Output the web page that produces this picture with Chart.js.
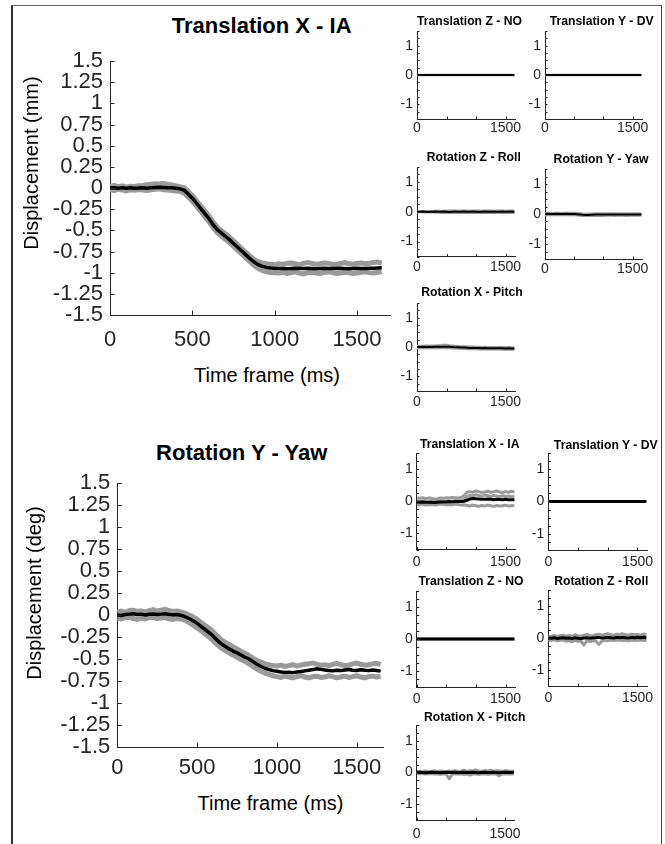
<!DOCTYPE html>
<html>
<head>
<meta charset="utf-8">
<script src="https://cdn.jsdelivr.net/npm/chart.js@4/dist/chart.umd.min.js"></script>
<style>
html,body{margin:0;padding:0;background:#fff;}
#fig{position:relative;width:665px;height:844px;overflow:hidden;background:#fff;font-family:"Liberation Sans",Arial,Helvetica,sans-serif;color:#000;}
#frame{position:absolute;left:11px;top:5px;width:651px;height:900px;box-sizing:border-box;border-top:1px solid #666;border-left:2px solid #333;border-right:1px solid #444;}
canvas{position:absolute;}
.t{position:absolute;white-space:nowrap;line-height:1;transform:translate(-50%,-50%);}
.r{transform:translate(-50%,-50%) rotate(-90deg);}
</style>
</head>
<body>
<div id="fig"><div id="frame"></div></div>
<script>
// ---------------- data ----------------
const T25 = [0,25,50,75,100,125,150,175,200,225,250,275,300,325,350,375,400,425,450,475,500,525,550,575,600,625,650,675,700,725,750,775,800,825,850,875,900,925,950,975,1000,1025,1050,1075,1100,1125,1150,1175,1200,1225,1250,1275,1300,1325,1350,1375,1400,1425,1450,1475,1500,1525,1550,1575,1600,1625,1650];
const T50 = [0,50,100,150,200,250,300,350,400,450,500,550,600,650,700,750,800,850,900,950,1000,1050,1100,1150,1200,1250,1300,1350,1400,1450,1500,1550,1600,1650];

const BIG_Y_TICKS = [-1.5,-1.25,-1,-0.75,-0.5,-0.25,0,0.25,0.5,0.75,1,1.25,1.5];
const BIG_X_TICKS = [0,500,1000,1500];
const SMALL_Y_TICKS = [-1.5,-1.25,-1,-0.75,-0.5,-0.25,0,0.25,0.5,0.75,1,1.25,1.5];
const SMALL_Y_LABELS = [-1,0,1];
const SMALL_X_TICKS = [0,500,1000,1500];
const SMALL_X_LABELS = [0,1500];

// Top: Translation X - IA (mm)
const txMean = [0.000,0.004,-0.002,0.003,-0.003,0.002,-0.004,0.001,0.003,-0.002,0.004,0.006,0.008,0.006,0.004,0.002,-0.004,-0.010,
 -0.025,-0.070,-0.120,-0.180,-0.240,-0.300,-0.360,-0.430,-0.490,-0.530,-0.570,-0.610,-0.655,-0.700,-0.745,-0.790,-0.835,-0.875,-0.905,-0.925,-0.938,-0.946,
 -0.950,-0.952,-0.950,-0.953,-0.951,-0.949,-0.952,-0.950,-0.948,-0.951,-0.953,-0.950,-0.948,-0.951,-0.950,-0.952,-0.949,-0.951,-0.953,-0.950,-0.948,-0.950,-0.952,-0.949,-0.947,-0.945,-0.943];
const txTrialA = [0.020,0.030,0.015,0.025,0.010,0.022,0.018,0.028,0.030,0.040,0.045,0.050,0.048,0.055,0.045,0.035,0.025,0.015,
 0.005,-0.040,-0.090,-0.150,-0.210,-0.270,-0.330,-0.400,-0.460,-0.500,-0.540,-0.580,-0.625,-0.670,-0.715,-0.760,-0.805,-0.845,-0.870,-0.885,-0.895,-0.900,
 -0.905,-0.895,-0.900,-0.890,-0.885,-0.895,-0.905,-0.890,-0.880,-0.890,-0.900,-0.895,-0.885,-0.890,-0.900,-0.905,-0.890,-0.880,-0.895,-0.900,-0.890,-0.885,-0.895,-0.890,-0.880,-0.875,-0.885];
const txTrialB = [-0.020,-0.030,-0.015,-0.025,-0.035,-0.020,-0.028,-0.018,-0.025,-0.030,-0.020,-0.015,-0.010,-0.020,-0.025,-0.030,-0.035,-0.040,
 -0.060,-0.105,-0.155,-0.215,-0.275,-0.335,-0.395,-0.465,-0.525,-0.565,-0.605,-0.645,-0.690,-0.735,-0.780,-0.825,-0.870,-0.915,-0.950,-0.975,-0.990,-0.998,
 -1.000,-1.005,-0.995,-1.010,-1.000,-0.990,-1.005,-1.015,-1.000,-0.995,-1.005,-1.010,-0.995,-0.990,-1.000,-1.010,-1.005,-0.995,-1.000,-1.010,-1.005,-0.995,-0.990,-1.000,-1.005,-0.995,-0.990];

// Bottom: Rotation Y - Yaw (deg)
const ryMean = [0.000,-0.005,0.005,0.010,0.015,0.005,0.010,0.000,0.008,0.012,0.005,0.010,0.015,0.005,0.000,0.005,-0.005,
 -0.020,-0.040,-0.065,-0.095,-0.130,-0.165,-0.200,-0.240,-0.285,-0.325,-0.355,-0.385,-0.410,-0.430,-0.455,-0.480,-0.500,-0.530,-0.560,-0.585,-0.605,-0.620,-0.632,
 -0.640,-0.648,-0.652,-0.650,-0.655,-0.648,-0.642,-0.635,-0.628,-0.620,-0.612,-0.618,-0.625,-0.630,-0.635,-0.628,-0.632,-0.625,-0.620,-0.628,-0.630,-0.622,-0.628,-0.632,-0.625,-0.630,-0.638];
const ryTrialA = [0.035,0.045,0.030,0.050,0.055,0.040,0.045,0.035,0.050,0.060,0.045,0.055,0.065,0.050,0.040,0.045,0.035,
 0.020,0.000,-0.020,-0.050,-0.085,-0.120,-0.150,-0.190,-0.235,-0.280,-0.310,-0.335,-0.360,-0.385,-0.410,-0.435,-0.460,-0.490,-0.515,-0.535,-0.555,-0.565,-0.575,
 -0.580,-0.570,-0.585,-0.575,-0.565,-0.580,-0.570,-0.560,-0.555,-0.545,-0.560,-0.570,-0.565,-0.575,-0.560,-0.550,-0.565,-0.575,-0.570,-0.555,-0.545,-0.560,-0.570,-0.565,-0.555,-0.550,-0.565];
const ryTrialB = [-0.035,-0.045,-0.030,-0.025,-0.040,-0.050,-0.035,-0.045,-0.030,-0.025,-0.040,-0.035,-0.030,-0.045,-0.050,-0.040,-0.045,
 -0.060,-0.085,-0.115,-0.145,-0.180,-0.215,-0.250,-0.290,-0.335,-0.375,-0.400,-0.430,-0.455,-0.480,-0.505,-0.530,-0.555,-0.585,-0.615,-0.640,-0.660,-0.675,-0.690,
 -0.700,-0.710,-0.695,-0.705,-0.715,-0.700,-0.690,-0.705,-0.715,-0.700,-0.695,-0.710,-0.705,-0.690,-0.700,-0.715,-0.705,-0.695,-0.710,-0.700,-0.690,-0.705,-0.715,-0.700,-0.695,-0.705,-0.700];

// flat channels
const flat0 = [0,0,0,0,0,0,0,0,0,0,0,0,0,0,0,0,0,0,0,0,0,0,0,0,0,0,0,0,0,0,0,0,0,0];

// Top block small panels (stimulus: Translation X - IA)
const t_rzMean = [0.000,0.000,0.005,0.000,-0.005,0.000,0.005,0.000,0.000,0.005,0.000,-0.005,0.000,0.005,0.000,0.000,0.005,0.000,0.000,0.005,0.000,-0.005,0.000,0.005,0.000,0.000,0.005,0.000,0.000,0.005,0.000,0.000,0.005,0.000];
const t_rzUp = [0.010,0.010,0.015,0.010,0.020,0.015,0.025,0.030,0.020,0.030,0.025,0.030,0.035,0.030,0.025,0.030,0.035,0.030,0.025,0.030,0.035,0.030,0.025,0.030,0.030,0.035,0.025,0.030,0.035,0.030,0.025,0.030,0.030,0.025];
const t_rzLo = [-0.010,-0.010,-0.015,-0.010,-0.015,-0.020,-0.025,-0.020,-0.030,-0.025,-0.030,-0.025,-0.030,-0.035,-0.030,-0.025,-0.030,-0.035,-0.030,-0.025,-0.030,-0.035,-0.030,-0.025,-0.030,-0.030,-0.035,-0.025,-0.030,-0.035,-0.030,-0.025,-0.030,-0.030];
const t_ryMean = [0.000,0.005,0.000,0.000,0.005,0.000,0.000,0.005,0.000,0.000,0.000,-0.005,-0.015,-0.025,-0.030,-0.030,-0.025,-0.020,-0.020,-0.015,-0.020,-0.020,-0.015,-0.020,-0.015,-0.020,-0.020,-0.015,-0.020,-0.015,-0.015,-0.020,-0.015,-0.015];
const t_ryUp = [0.025,0.030,0.030,0.025,0.035,0.030,0.025,0.035,0.030,0.030,0.035,0.025,0.015,0.005,0.000,0.000,0.005,0.010,0.015,0.010,0.015,0.010,0.015,0.010,0.015,0.010,0.015,0.010,0.015,0.010,0.015,0.010,0.015,0.010];
const t_ryLo = [-0.025,-0.030,-0.025,-0.030,-0.025,-0.030,-0.035,-0.025,-0.030,-0.030,-0.035,-0.040,-0.050,-0.055,-0.060,-0.060,-0.055,-0.050,-0.055,-0.050,-0.055,-0.050,-0.045,-0.050,-0.055,-0.050,-0.045,-0.050,-0.055,-0.050,-0.045,-0.050,-0.050,-0.045];
const t_rxMean = [0.000,0.000,0.005,0.000,0.005,0.000,0.005,0.005,0.005,0.010,0.010,0.005,0.000,-0.005,-0.010,-0.015,-0.020,-0.025,-0.030,-0.030,-0.035,-0.035,-0.040,-0.035,-0.040,-0.040,-0.045,-0.040,-0.045,-0.045,-0.050,-0.045,-0.050,-0.050];
const t_rxUp = [0.030,0.035,0.030,0.040,0.035,0.040,0.045,0.050,0.055,0.070,0.065,0.050,0.040,0.030,0.025,0.020,0.015,0.010,0.005,0.005,0.000,0.000,-0.005,0.000,-0.005,-0.005,-0.010,-0.005,-0.010,-0.010,-0.015,-0.010,-0.015,-0.015];
const t_rxLo = [-0.030,-0.035,-0.030,-0.035,-0.030,-0.035,-0.030,-0.035,-0.030,-0.025,-0.030,-0.035,-0.040,-0.045,-0.050,-0.055,-0.060,-0.065,-0.070,-0.065,-0.070,-0.075,-0.070,-0.075,-0.080,-0.075,-0.080,-0.075,-0.080,-0.085,-0.080,-0.085,-0.080,-0.085];

// Bottom block small panels (stimulus: Rotation Y - Yaw)
const b_txMean = [-0.020,-0.030,-0.020,-0.030,-0.035,-0.030,-0.040,-0.030,-0.020,-0.025,-0.020,-0.010,-0.015,-0.010,-0.010,-0.005,0.000,0.030,0.070,0.085,0.080,0.070,0.060,0.065,0.070,0.060,0.050,0.060,0.055,0.050,0.060,0.050,0.045,0.050];
const b_txUp = [0.10,0.09,0.11,0.08,0.10,0.09,0.07,0.08,0.10,0.09,0.11,0.10,0.12,0.11,0.10,0.12,0.18,0.28,0.30,0.28,0.32,0.30,0.27,0.29,0.31,0.28,0.30,0.32,0.29,0.27,0.30,0.28,0.31,0.29];
const b_txMid = [0.00,-0.01,0.01,-0.02,0.00,-0.01,-0.02,0.00,0.01,-0.01,0.00,0.01,0.00,0.02,0.01,0.02,0.06,0.14,0.18,0.17,0.20,0.18,0.16,0.19,0.17,0.15,0.18,0.16,0.14,0.17,0.15,0.16,0.14,0.15];
const b_txLo = [-0.10,-0.11,-0.09,-0.12,-0.11,-0.10,-0.12,-0.11,-0.09,-0.10,-0.11,-0.10,-0.11,-0.09,-0.10,-0.12,-0.11,-0.13,-0.15,-0.12,-0.14,-0.16,-0.13,-0.15,-0.12,-0.14,-0.16,-0.13,-0.15,-0.14,-0.12,-0.15,-0.14,-0.13];
const b_rzMean = [0.00,-0.01,0.01,-0.02,0.00,0.01,-0.01,0.00,-0.02,0.01,-0.01,-0.02,0.00,0.01,-0.01,0.00,0.01,0.02,0.00,0.01,0.02,0.01,0.00,0.02,0.01,0.02,0.01,0.00,0.02,0.01,0.02,0.01,0.02,0.01];
const b_rzUp = [0.06,0.05,0.08,0.05,0.07,0.09,0.06,0.08,0.05,0.10,0.07,0.06,0.09,0.11,0.08,0.07,0.10,0.12,0.09,0.11,0.13,0.10,0.09,0.12,0.11,0.13,0.10,0.09,0.12,0.10,0.11,0.09,0.12,0.10];
const b_rzLo = [-0.06,-0.08,-0.05,-0.09,-0.07,-0.06,-0.10,-0.08,-0.12,-0.07,-0.10,-0.10,-0.22,-0.08,-0.11,-0.09,-0.09,-0.20,-0.10,-0.07,-0.09,-0.06,-0.08,-0.07,-0.06,-0.08,-0.07,-0.09,-0.06,-0.08,-0.07,-0.06,-0.08,-0.07];
const b_rxMean = [0.000,0.005,0.000,-0.005,0.000,0.005,0.000,0.000,-0.005,0.000,0.005,0.000,0.000,0.005,-0.005,0.000,0.005,0.000,0.000,0.005,0.000,-0.005,0.000,0.005,0.000,0.000,0.005,0.000,-0.005,0.000,0.005,0.000,0.000,0.005];
const b_rxUp = [0.03,0.04,0.02,0.05,0.03,0.04,0.06,0.03,0.05,0.04,0.03,0.05,0.04,0.06,0.04,0.05,0.07,0.04,0.06,0.05,0.08,0.05,0.04,0.06,0.05,0.07,0.04,0.06,0.05,0.04,0.06,0.05,0.04,0.05];
const b_rxLo = [-0.03,-0.04,-0.03,-0.05,-0.04,-0.03,-0.05,-0.04,-0.06,-0.04,-0.05,-0.20,-0.06,-0.04,-0.05,-0.04,-0.06,-0.05,-0.08,-0.05,-0.04,-0.06,-0.05,-0.04,-0.06,-0.05,-0.04,-0.05,-0.10,-0.04,-0.05,-0.04,-0.05,-0.04];

// ---------------- style / layout ----------------
const FONT = "'Liberation Sans', Arial, Helvetica, sans-serif";
const AXIS = '#262626';
const GREY = '#9a9a9a';

const BIG = {ml:90, mt:14, mr:12, mb:42, fs:22, yPad:7, tickLen:4.5, greyW:5, meanW:3.5,
  xTicks:BIG_X_TICKS, xLabels:BIG_X_TICKS, yTicks:BIG_Y_TICKS, yLabels:BIG_Y_TICKS, t:T25};
const SMALLT = {ml:30, mt:8, mr:14, mb:24, fs:14, yPad:4, tickLen:2.5, greyW:2.5, meanW:2,
  xTicks:SMALL_X_TICKS, xLabels:SMALL_X_LABELS, yTicks:SMALL_Y_TICKS, yLabels:SMALL_Y_LABELS, t:T50, xmax:1660};
const SMALLB = Object.assign({}, SMALLT, {greyW:3, meanW:3});

const CHARTS = [
  Object.assign({}, BIG, {area:[110,57,390,315], xmax:1700, xPad:14, mean:txMean, grey:[txTrialA, txTrialB]}),
  Object.assign({}, BIG, {area:[117.3,479,383,747], xmax:1665, xPad:9.5, mean:ryMean, grey:[ryTrialA, ryTrialB]}),
  // top block small
  Object.assign({}, SMALLT, {area:[417,28,515,119], xPad:2.5, mean:flat0, grey:[flat0]}),
  Object.assign({}, SMALLT, {area:[545,28,642,119], xPad:2.5, mean:flat0, grey:[flat0]}),
  Object.assign({}, SMALLT, {area:[417,164.5,515,256.5], xPad:3.5, mean:t_rzMean, grey:[t_rzUp, t_rzLo]}),
  Object.assign({}, SMALLT, {area:[545,166.5,642,259], xPad:3.5, mean:t_ryMean, grey:[t_ryUp, t_ryLo]}),
  Object.assign({}, SMALLT, {area:[417,300,515,391], xPad:4, mean:t_rxMean, grey:[t_rxUp, t_rxLo]}),
  // bottom block small
  Object.assign({}, SMALLB, {area:[416.7,450.5,515,549.5], xPad:5.5, mean:b_txMean, grey:[b_txUp, b_txMid, b_txLo]}),
  Object.assign({}, SMALLB, {area:[548.3,450.5,647,550], xPad:5.5, mean:flat0, grey:[flat0]}),
  Object.assign({}, SMALLB, {area:[416.7,588,515,687], xPad:5, mean:flat0, grey:[flat0]}),
  Object.assign({}, SMALLB, {area:[548.3,587,647,686], xPad:5, mean:b_rzMean, grey:[b_rzUp, b_rzLo]}),
  Object.assign({}, SMALLB, {area:[416.7,722,515,820], xPad:7, mean:b_rxMean, grey:[b_rxUp, b_rxLo]})
];

// text: [text, centerX, centerY, size, bold, rotated]
const TEXTS = [
  ['Translation X - IA', 261.7, 26.2, 22, true],
  ['Displacement (mm)', 30.5, 163, 20, false, true],
  ['Time frame (ms)', 267, 375, 20, false],
  ['Rotation Y - Yaw', 241.7, 452.5, 22, true],
  ['Displacement (deg)', 34, 592.5, 20, false, true],
  ['Time frame (ms)', 270.5, 802.5, 20, false],
  ['Translation Z - NO', 469.5, 20.5, 12.2, true],
  ['Translation Y - DV', 601.7, 20.5, 12.2, true],
  ['Rotation Z - Roll', 473.8, 157, 12.2, true],
  ['Rotation Y - Yaw', 601, 158.7, 12.2, true],
  ['Rotation X - Pitch', 472, 292, 12.2, true],
  ['Translation X - IA', 469.7, 444.2, 12.2, true],
  ['Translation Y - DV', 605.8, 444.5, 12.2, true],
  ['Translation Z - NO', 471, 581.2, 12.2, true],
  ['Rotation Z - Roll', 601.3, 581.2, 12.2, true],
  ['Rotation X - Pitch', 474.7, 717.2, 12.2, true]
];

// ---------------- drawing ----------------
const fig = document.getElementById('fig');

const inwardTicks = {
  id: 'inwardTicks',
  afterDraw(chart, args, opts) {
    const {ctx, chartArea: a, scales: {x, y}} = chart;
    ctx.save();
    ctx.strokeStyle = opts.color;
    ctx.lineWidth = 1;
    ctx.beginPath();
    x.ticks.forEach(t => {
      const px = Math.round(x.getPixelForValue(t.value)) + 0.5;
      ctx.moveTo(px, a.bottom); ctx.lineTo(px, a.bottom - opts.len);
    });
    y.ticks.forEach(t => {
      const py = Math.round(y.getPixelForValue(t.value)) + 0.5;
      ctx.moveTo(a.left, py); ctx.lineTo(a.left + opts.len, py);
    });
    ctx.stroke();
    ctx.restore();
  }
};

function build(c) {
  const [l, t, r, b] = c.area;
  const cl = Math.floor(l - c.ml), ct = Math.floor(t - c.mt);
  const cr = Math.ceil(r + c.mr), cb = Math.ceil(b + c.mb);
  const W = cr - cl, H = cb - ct;
  const cv = document.createElement('canvas');
  cv.width = W; cv.height = H;
  cv.style.left = cl + 'px'; cv.style.top = ct + 'px';
  cv.style.width = W + 'px'; cv.style.height = H + 'px';
  fig.appendChild(cv);
  const yW = l - cl, padT = t - ct, padR = cr - r, xH = cb - b;
  const mk = (arr, color, w, order) => ({
    data: c.t.map((xv, i) => ({x: xv, y: arr[i]})),
    borderColor: color, borderWidth: w, pointRadius: 0, tension: 0, fill: false,
    borderJoinStyle: 'round', order: order
  });
  const datasets = [mk(c.mean, '#000000', c.meanW, 0)].concat(c.grey.map(g => mk(g, GREY, c.greyW, 1)));
  const tickFont = {family: FONT, size: c.fs, lineHeight: 1};
  new Chart(cv, {
    type: 'line',
    data: {datasets},
    options: {
      responsive: false, animation: false, devicePixelRatio: 1, events: [],
      layout: {padding: {left: 0, top: padT, right: padR, bottom: 0}},
      plugins: {legend: {display: false}, tooltip: {enabled: false}, title: {display: false},
        inwardTicks: {len: c.tickLen, color: AXIS}},
      scales: {
        x: {type: 'linear', bounds: 'data', min: 0, max: c.xmax,
          afterFit: s => { s.height = xH; },
          afterBuildTicks: s => { s.ticks = c.xTicks.map(v => ({value: v})); },
          grid: {display: false, drawTicks: false}, border: {display: true, color: AXIS, width: 1},
          ticks: {autoSkip: false, maxRotation: 0, minRotation: 0, padding: c.xPad, color: AXIS, font: tickFont,
            callback: v => c.xLabels.includes(v) ? String(v) : ''}},
        y: {type: 'linear', bounds: 'data', min: -1.5, max: 1.5,
          afterFit: s => { s.width = yW; },
          afterBuildTicks: s => { s.ticks = c.yTicks.map(v => ({value: v})); },
          grid: {display: false, drawTicks: false}, border: {display: true, color: AXIS, width: 1},
          ticks: {autoSkip: false, padding: c.yPad, color: AXIS, font: tickFont,
            callback: v => c.yLabels.includes(v) ? String(v) : ''}}
      }
    },
    plugins: [inwardTicks]
  });
}

CHARTS.forEach(build);

TEXTS.forEach(([txt, x, y, size, bold, rot]) => {
  const d = document.createElement('div');
  d.className = 't' + (rot ? ' r' : '');
  d.textContent = txt;
  d.style.left = x + 'px'; d.style.top = y + 'px';
  d.style.fontSize = size + 'px';
  d.style.fontWeight = bold ? 'bold' : 'normal';
  fig.appendChild(d);
});
</script>
</body>
</html>
